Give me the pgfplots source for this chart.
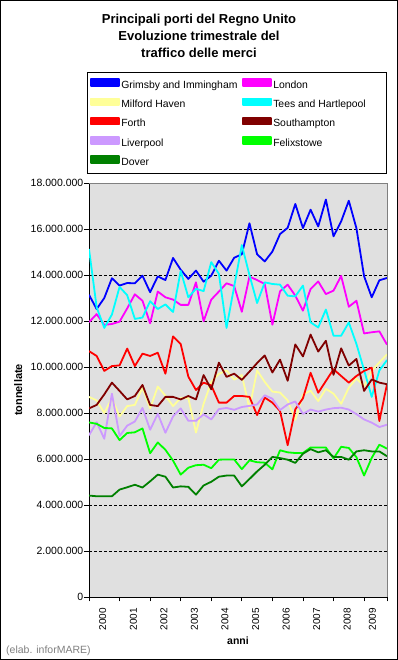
\documentclass[border=0pt]{standalone}
\usepackage{fontspec}
\setmainfont{Liberation Sans}
\usepackage{pgfplots}
\usepackage{pgfplotstable}
\pgfplotsset{compat=1.18}
\definecolor{bgc}{RGB}{224,224,224}
\definecolor{cG}{RGB}{0,0,255}
\definecolor{cL}{RGB}{255,0,255}
\definecolor{cM}{RGB}{255,255,153}
\definecolor{cT}{RGB}{0,255,255}
\definecolor{cF}{RGB}{255,0,0}
\definecolor{cS}{RGB}{128,0,0}
\definecolor{cLv}{RGB}{204,153,255}
\definecolor{cFx}{RGB}{0,255,0}
\definecolor{cD}{RGB}{0,128,0}
% values in millions of tonnes, quarters 2000Q1 (0) ... 2009Q4 (39)
\pgfplotstableread{
q G Lo M T F S Lv Fx D
0 13.14 11.95 8.70 15.13 10.69 8.20 7.03 7.59 4.41
1 12.52 12.30 8.55 12.60 10.48 8.35 7.60 7.53 4.38
2 13.00 11.83 8.00 11.70 9.83 8.81 6.88 7.35 4.38
3 13.86 11.87 8.65 12.28 10.04 9.32 8.84 7.33 4.38
4 13.54 11.97 7.85 13.48 10.07 8.96 7.00 6.82 4.67
5 13.65 12.55 8.30 13.12 10.80 8.59 7.45 7.13 4.77
6 13.64 13.16 8.35 12.09 10.04 8.74 7.63 7.16 4.88
7 13.97 12.88 9.10 12.15 10.58 9.22 8.22 7.33 4.76
8 13.25 11.90 8.20 12.86 10.48 8.35 7.27 6.25 5.03
9 13.94 13.28 9.15 12.52 10.62 8.30 7.97 6.72 5.32
10 13.78 13.03 8.75 12.72 9.71 8.70 7.14 6.40 5.23
11 14.74 12.93 8.30 12.39 11.33 8.70 7.85 5.93 4.76
12 14.23 12.70 8.65 14.18 11.00 8.59 8.20 5.32 4.81
13 13.83 12.70 8.65 13.03 9.58 8.74 7.66 5.62 4.79
14 14.19 13.68 7.15 13.40 9.00 8.59 7.66 5.73 4.45
15 13.71 11.99 8.40 13.30 9.32 9.65 7.94 5.75 4.85
16 13.97 12.93 9.35 14.56 9.20 9.03 7.72 5.60 5.01
17 14.62 13.28 9.70 14.05 8.45 10.19 8.17 5.97 5.23
18 14.19 13.64 9.85 11.70 8.45 9.57 8.22 5.98 5.28
19 14.75 13.52 9.45 13.50 8.74 9.71 8.14 5.98 5.28
20 14.90 12.40 9.65 15.30 8.74 9.44 8.26 5.56 4.81
21 16.25 13.93 8.20 14.00 8.70 9.80 8.31 5.94 5.13
22 14.90 13.78 9.85 12.78 7.91 10.17 8.37 5.86 5.46
23 14.59 13.61 9.35 13.68 8.67 10.50 8.77 5.84 5.75
24 15.02 11.84 8.93 13.61 8.45 9.76 8.62 5.55 6.09
25 15.78 13.29 8.89 13.58 8.09 10.32 8.13 6.38 6.04
26 16.05 13.58 8.55 13.10 6.60 9.40 8.37 6.29 5.97
27 17.09 13.10 7.70 13.07 8.16 10.98 8.50 6.26 5.83
28 16.04 12.45 8.80 13.54 8.64 10.46 7.96 6.26 6.23
29 16.84 13.39 8.97 11.94 9.75 11.41 8.15 6.50 6.43
30 16.11 13.72 8.52 11.72 8.88 10.67 8.06 6.50 6.29
31 17.28 13.17 9.05 12.50 9.39 11.14 8.15 6.50 6.38
32 15.68 13.32 8.84 11.36 9.90 9.66 8.21 6.02 6.09
33 16.33 13.96 8.40 11.36 9.61 10.81 8.23 6.53 6.09
34 17.23 12.62 9.10 11.94 9.32 10.06 8.15 6.48 5.97
35 16.03 12.88 9.50 11.00 9.61 10.35 7.95 6.08 6.33
36 13.95 11.46 9.17 9.87 9.83 8.96 7.72 5.28 6.38
37 13.03 11.51 9.83 8.70 9.97 9.46 7.58 6.05 6.33
38 13.77 11.55 10.20 9.85 7.65 9.32 7.39 6.62 6.33
39 13.87 10.97 10.55 10.30 9.25 9.25 7.49 6.45 6.12
}\ports

\begin{document}
\begin{tikzpicture}
\useasboundingbox (0,0) rectangle (398pt,660pt);
\draw[black, line width=1pt] (0.5pt,0.5pt) rectangle (397.5pt,659.5pt);
\node[align=center, inner sep=0pt, anchor=north, font=\bfseries\fontsize{13}{17}\selectfont] at (199pt,646.5pt)
  {Principali porti del Regno Unito\\Evoluzione trimestrale del\\traffico delle merci};
\draw[black, line width=0.9pt] (87.5pt,486.5pt) rectangle (386.5pt,587.5pt);
\node[anchor=west, inner sep=0pt, text=gray, font=\fontsize{10.5}{12}\selectfont] at (6pt,9pt) {(elab. inforMARE)};
\begin{axis}[
  at={(89pt,63pt)}, anchor=south west,
  scale only axis, width=298pt, height=414pt,
  xmin=0, xmax=39, ymin=0, ymax=18,
  axis background/.style={fill=bgc},
  axis x line*=bottom, axis y line*=left,
  axis line style={black, line width=0.8pt},
  tick align=outside, major tick length=4.5pt,
  tick style={black, line width=0.8pt},
  ytick={0,2,...,18},
  yticklabels={0,2.000.000,4.000.000,6.000.000,8.000.000,10.000.000,12.000.000,14.000.000,16.000.000,18.000.000},
  yticklabel style={font=\fontsize{10.5}{12}\selectfont, inner sep=1pt},
  ymajorgrids,
  major grid style={black, dash pattern=on 3pt off 2pt, line width=0.7pt},
  xtick={0,4,...,36,39}, xticklabels={},
  extra x ticks={1.8,5.8,9.8,13.8,17.8,21.8,25.8,29.8,33.8,37.1},
  extra x tick labels={2000,2001,2002,2003,2004,2005,2006,2007,2008,2009},
  extra x tick style={major tick length=0pt, grid=none,
     tick label style={rotate=90, anchor=east, font=\fontsize{10}{12}\selectfont, xshift=-11pt, inner sep=0pt}},
  ylabel={tonnellate}, xlabel={anni},
  every axis y label/.style={at={(axis description cs:-0.238,0.5)}, rotate=90, anchor=center, font=\bfseries\fontsize{11}{13}\selectfont},
  every axis x label/.style={at={(axis description cs:0.5,0)}, yshift=-44pt, anchor=center, font=\bfseries\fontsize{10.5}{13}\selectfont},
  legend columns=2,
  legend cell align=left,
  legend style={at={(axis description cs:0.0034,1.2535)}, anchor=north west, draw=none, fill=none,
     inner sep=0pt, row sep=6.95pt, font=\fontsize{10.4}{12}\selectfont,
     nodes={inner sep=0pt, text height=7.5pt, text depth=2.2pt},
     /tikz/every odd column/.style={column sep=1.6pt},
     /tikz/every even column/.style={column sep=4.7pt}},
  legend image code/.code={\fill[#1] (0pt,-0.2pt) rectangle (27.7pt,6.6pt);},
  every axis plot/.append style={line width=1.8pt, line join=round, mark=none},
  after end axis/.append code={\draw[gray, line width=0.8pt] (rel axis cs:0,1) -- (rel axis cs:1,1) -- (rel axis cs:1,0);},
]
\addplot[color=cG] table[x=q, y=G] {\ports};
\addlegendentry{Grimsby and Immingham}
\addplot[color=cL] table[x=q, y=Lo] {\ports};
\addlegendentry{London}
\addplot[color=cM] table[x=q, y=M] {\ports};
\addlegendentry{Milford Haven}
\addplot[color=cT] table[x=q, y=T] {\ports};
\addlegendentry{Tees and Hartlepool}
\addplot[color=cF] table[x=q, y=F] {\ports};
\addlegendentry{Forth}
\addplot[color=cS] table[x=q, y=S] {\ports};
\addlegendentry{Southampton}
\addplot[color=cLv] table[x=q, y=Lv] {\ports};
\addlegendentry{Liverpool}
\addplot[color=cFx] table[x=q, y=Fx] {\ports};
\addlegendentry{Felixstowe}
\addplot[color=cD] table[x=q, y=D] {\ports};
\addlegendentry{Dover}
\end{axis}
\end{tikzpicture}
\end{document}
